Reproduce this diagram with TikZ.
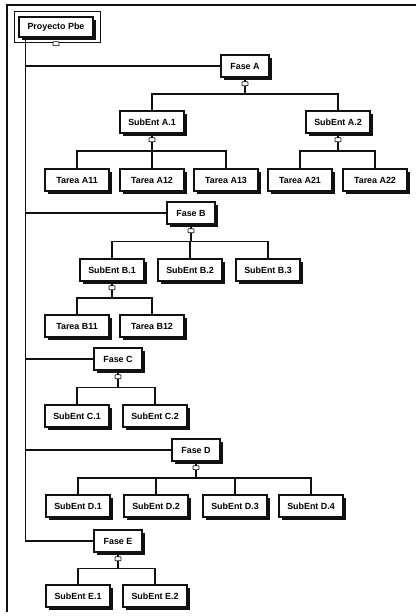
\documentclass[tikz,border=0pt]{standalone}
\usepackage{fontspec}
\setmainfont{Liberation Sans}
\usepackage{tikz}
\usetikzlibrary{calc,fit,shadows}
\definecolor{ChartInk}{HTML}{111111}
\tikzset{
  link/.style={draw=ChartInk,line width=0.95pt},
  frameline/.style={draw=ChartInk,line width=1.1pt},
  wbsbox/.style={draw=ChartInk,line width=1.3pt,fill=white,align=center,inner sep=1pt,
    minimum height=0.66cm,font=\fontsize{7.6}{9}\selectfont\bfseries,
    drop shadow={shadow xshift=0.09cm,shadow yshift=-0.09cm,fill=ChartInk,opacity=1}},
  entity/.style={wbsbox,minimum width=1.92cm},
  phase/.style={wbsbox,minimum width=1.45cm},
  rootbox/.style={wbsbox,minimum width=2.22cm,minimum height=0.6cm},
  toggle/.style={draw=ChartInk,line width=0.6pt,fill=white,rounded corners=0.5pt,
    minimum width=0.18cm,minimum height=0.12cm,inner sep=0pt}
}
\newcommand{\wbsedge}[2]{\draw[link] (#1.south) |- ($(#1.south)!.5!(#2.north)$) -| (#2.north);}

\begin{document}
\begin{tikzpicture}[x=0.03cm,y=-0.03cm]
  \useasboundingbox (0,0) rectangle (416,616);
  % scanned page frame
  \draw[frameline] (416,5) -- (7,5) -- (7,612);

  % project and phases
  \node[draw=ChartInk,line width=0.6pt,inner sep=0pt,fit={(14,11) (100,42)}] (rootsel) {};
  \node[rootbox] (root) at (56,27) {Proyecto Pbe};
  \node[phase] (faseA) at (245,66) {Fase A};
  \node[phase] (faseB) at (191,213) {Fase B};
  \node[phase] (faseC) at (118,359) {Fase C};
  \node[phase] (faseD) at (196,450) {Fase D};
  \node[phase] (faseE) at (118,541) {Fase E};

  % sub-entities
  \node[entity] (sA1) at (152,122) {SubEnt A.1};
  \node[entity] (sA2) at (338,122) {SubEnt A.2};
  \node[entity] (sB1) at (112,270) {SubEnt B.1};
  \node[entity] (sB2) at (190,270) {SubEnt B.2};
  \node[entity] (sB3) at (268,270) {SubEnt B.3};
  \node[entity] (sC1) at (77,416) {SubEnt C.1};
  \node[entity] (sC2) at (155,416) {SubEnt C.2};
  \node[entity] (sD1) at (78,506) {SubEnt D.1};
  \node[entity] (sD2) at (156,506) {SubEnt D.2};
  \node[entity] (sD3) at (235,506) {SubEnt D.3};
  \node[entity] (sD4) at (311,506) {SubEnt D.4};
  \node[entity] (sE1) at (78,596) {SubEnt E.1};
  \node[entity] (sE2) at (155,596) {SubEnt E.2};

  % tasks
  \node[entity] (tA11) at (77,180) {Tarea A11};
  \node[entity] (tA12) at (152,180) {Tarea A12};
  \node[entity] (tA13) at (226,180) {Tarea A13};
  \node[entity] (tA21) at (300,180) {Tarea A21};
  \node[entity] (tA22) at (375,180) {Tarea A22};
  \node[entity] (tB11) at (77,326) {Tarea B11};
  \node[entity] (tB12) at (152,326) {Tarea B12};

  % trunk from the project to every phase
  \coordinate (trunk) at ($(root.south west)+(7,0)$);
  \foreach \f in {faseA,faseB,faseC,faseD}
    \draw[link] (trunk |- \f.west) -- (\f.west);
  \draw[link] (trunk) |- (faseE.west);

  % tree connectors
  \foreach \c in {sA1,sA2} {\wbsedge{faseA}{\c}}
  \foreach \c in {tA11,tA12,tA13} {\wbsedge{sA1}{\c}}
  \foreach \c in {tA21,tA22} {\wbsedge{sA2}{\c}}
  \foreach \c in {sB1,sB2,sB3} {\wbsedge{faseB}{\c}}
  \foreach \c in {tB11,tB12} {\wbsedge{sB1}{\c}}
  \foreach \c in {sC1,sC2} {\wbsedge{faseC}{\c}}
  \foreach \c in {sD1,sD2,sD3,sD4} {\wbsedge{faseD}{\c}}
  \foreach \c in {sE1,sE2} {\wbsedge{faseE}{\c}}

  % collapse toggles
  \foreach \p in {root,faseA,sA1,sA2,faseB,sB1,faseC,faseD,faseE}
    \node[toggle] (tg\p) at ($(\p.south)+(0,6)$) {};
\end{tikzpicture}
\end{document}
